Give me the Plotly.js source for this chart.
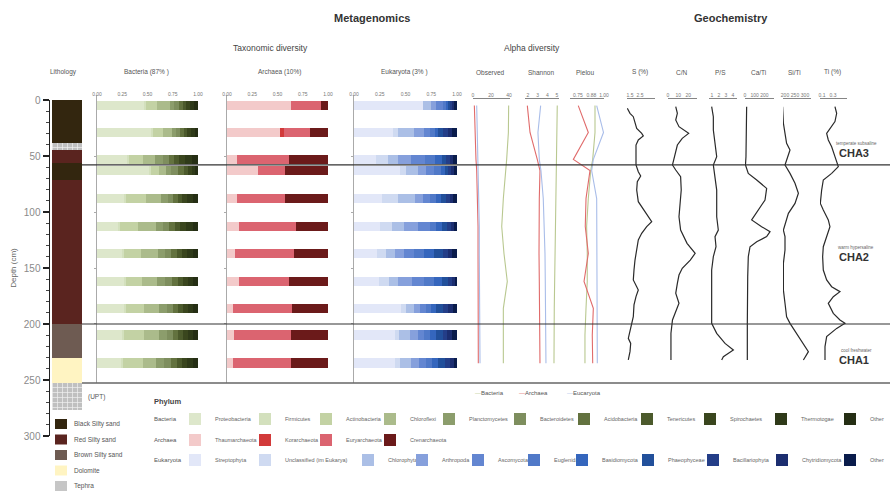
<!DOCTYPE html>
<html><head><meta charset="utf-8">
<script src="https://cdn.plot.ly/plotly-3.0.1.min.js"></script>
<style>html,body{margin:0;padding:0;background:#fff}#chart{width:890px;height:493px}</style>
</head><body><div id="chart"></div>
<script>
// ================= DATA =================
const sampleDepths = [5, 29, 53, 63, 88, 113, 137, 162, 186, 210, 235];

// Lithology (cm)
const lithoTop  = [0, 38, 45, 56, 71, 200, 230, 253];
const lithoBot  = [38, 45, 56, 71, 200, 230, 253, 277];
const lithoType = ['Black Silty sand','Tephra','Red Silty sand','Black Silty sand','Red Silty sand','Brown Silty sand','Dolomite','Tephra'];
const lithoClasses = ['Black Silty sand','Red Silty sand','Brown Silty sand','Dolomite','Tephra'];

// Bacteria relative abundance (rows = samples, cols = phyla)
const bacteriaPhyla = ['Proteobacteria','Firmicutes','Actinobacteria','Chloroflexi','Planctomycetes','Bacteroidetes','Acidobacteria','Tenericutes','Spirochaetes','Thermotogae','Other'];
const bacteriaAbund = [
  [0.47,0.02,0.10,0.13,0.04,0.05,0.04,0.03,0.04,0.04,0.04],
  [0.53,0.02,0.10,0.09,0.04,0.04,0.04,0.03,0.04,0.04,0.03],
  [0.30,0.02,0.14,0.11,0.08,0.06,0.05,0.05,0.06,0.07,0.06],
  [0.51,0.02,0.08,0.07,0.05,0.07,0.06,0.04,0.04,0.03,0.03],
  [0.27,0.02,0.20,0.14,0.07,0.05,0.05,0.04,0.05,0.06,0.05],
  [0.21,0.02,0.18,0.17,0.07,0.06,0.06,0.05,0.06,0.07,0.05],
  [0.25,0.02,0.17,0.16,0.07,0.06,0.06,0.05,0.05,0.06,0.05],
  [0.27,0.02,0.16,0.14,0.08,0.07,0.06,0.05,0.05,0.05,0.05],
  [0.27,0.02,0.18,0.14,0.08,0.06,0.05,0.05,0.05,0.05,0.05],
  [0.25,0.02,0.20,0.14,0.08,0.06,0.05,0.05,0.05,0.05,0.05],
  [0.24,0.02,0.20,0.12,0.08,0.07,0.06,0.05,0.05,0.06,0.05]
];

const archaeaPhyla = ['Thaumarchaeota','Korarchaeota','Euryarchaeota','Crenarchaeota'];
const archaeaAbund = [
  [0.63,0.00,0.30,0.07],
  [0.52,0.04,0.26,0.18],
  [0.10,0.00,0.51,0.39],
  [0.31,0.00,0.26,0.43],
  [0.10,0.00,0.47,0.43],
  [0.12,0.00,0.56,0.32],
  [0.08,0.00,0.58,0.34],
  [0.12,0.00,0.49,0.39],
  [0.06,0.00,0.58,0.36],
  [0.07,0.00,0.56,0.37],
  [0.06,0.00,0.57,0.37]
];

const eukaryotaPhyla = ['Streptophyta','Unclassified (im Eukarya)','Chlorophyta','Arthropoda','Ascomycota','Euglenida','Basidiomycota','Phaeophyceae','Bacillariophyta','Chytridiomycota','Other'];
const eukaryotaAbund = [
  [0.67,0.00,0.08,0.05,0.06,0.03,0.02,0.02,0.02,0.02,0.03],
  [0.38,0.05,0.15,0.10,0.06,0.05,0.03,0.04,0.05,0.04,0.05],
  [0.21,0.12,0.10,0.12,0.14,0.10,0.06,0.04,0.04,0.03,0.04],
  [0.45,0.05,0.12,0.08,0.08,0.06,0.04,0.03,0.03,0.03,0.03],
  [0.27,0.16,0.16,0.08,0.07,0.06,0.04,0.05,0.04,0.03,0.04],
  [0.25,0.12,0.12,0.13,0.12,0.06,0.05,0.05,0.04,0.03,0.03],
  [0.22,0.09,0.09,0.09,0.09,0.10,0.10,0.08,0.05,0.04,0.05],
  [0.24,0.10,0.09,0.13,0.12,0.10,0.07,0.06,0.04,0.03,0.02],
  [0.46,0.04,0.08,0.06,0.06,0.05,0.05,0.06,0.05,0.05,0.04],
  [0.40,0.04,0.10,0.08,0.06,0.06,0.06,0.06,0.04,0.05,0.05],
  [0.40,0.05,0.10,0.08,0.07,0.06,0.06,0.06,0.05,0.04,0.03]
];

// Alpha diversity (per sample)
const alphaGroups = ['Bacteria','Archaea','Eucaryota'];
const observedBac = [39.6,39.3,37.4,36.3,33.7,31.9,34.4,38.1,33.7,33.7,33.7];
const observedArc = [1.5,2.2,3.3,4.1,5.2,5.6,5.6,5.6,5.9,5.9,5.9];
const observedEuk = [4.1,4.8,5.6,5.9,6.7,7.0,7.0,7.4,7.4,7.8,7.8];
const shannonBac = [5.03,5.00,4.93,4.90,4.86,4.83,4.79,4.76,4.72,4.72,4.69];
const shannonArc = [1.93,2.21,2.96,3.24,3.17,3.14,3.14,3.17,3.17,3.17,3.24];
const shannonEuk = [3.31,3.03,3.17,3.34,3.58,3.69,3.76,3.79,3.83,3.86,3.86];
const pielouBac = [0.914,0.914,0.892,0.873,0.850,0.834,0.840,0.840,0.828,0.818,0.818];
const pielouArc = [0.754,0.850,0.707,0.866,0.828,0.821,0.850,0.809,0.898,0.888,0.892];
const pielouEuk = [0.930,0.995,0.898,0.882,0.930,0.930,0.930,0.930,0.936,0.930,0.936];

// Geochemistry
const sDepth = [7.4,11.9,14.9,20.8,25.3,29.8,32.1,35.7,40.2,50.6,58.0,64.0,67.9,72.9,80.4,90.8,102.7,108.6,113.1,119.0,125.0,132.4,142.9,151.8,160.7,166.7,169.6,175.6,183.0,193.5,199.4,205.4,212.8,217.3,224.7,232.1];
const sVal   = [1.23,1.50,1.83,2.00,2.17,2.67,2.83,2.33,2.10,2.10,2.10,2.33,2.57,2.23,2.17,2.33,3.17,3.67,3.17,2.67,2.33,2.17,2.00,1.90,1.83,2.17,2.33,2.10,1.90,1.83,1.67,1.50,1.33,1.57,1.50,1.33];
const cnDepth = [6.0,11.9,17.9,23.8,29.8,34.2,40.2,50.6,58.0,62.5,68.5,80.4,92.3,104.2,116.1,128.0,136.9,142.9,150.3,156.3,163.7,172.6,181.5,189.0,196.4,208.3,220.2,232.1];
const cnVal   = [7.6,9.2,7.6,10.8,20.3,14.0,9.2,6.0,4.4,7.6,12.4,13.0,11.7,10.8,12.4,18.7,26.7,21.9,14.0,10.8,9.2,7.6,10.8,7.6,4.4,2.9,2.9,2.9];
const psDepth = [6.0,14.9,26.8,38.7,50.6,58.0,68.5,80.4,92.3,104.2,116.1,122.0,131.0,139.9,151.8,169.6,184.5,199.4,208.3,217.3,223.2,229.2,232.1];
const psVal   = [0.95,1.19,1.19,1.43,1.67,1.19,1.43,1.67,1.67,1.67,1.90,1.43,1.57,1.19,0.95,0.95,0.95,0.95,1.67,2.86,4.05,2.62,2.38];
const caDepth = [6.0,20.8,35.7,50.6,58.0,65.5,71.4,78.9,89.3,99.7,107.1,113.1,117.6,122.0,126.5,131.0,139.9,157.7,175.6,199.4,217.3,232.1];
const caVal   = [17,17,17,10,5,34,121,224,207,121,69,172,259,224,121,52,34,28,24,24,24,24];
const siDepth = [6.0,20.8,29.8,38.7,44.6,53.6,58.0,65.5,74.4,83.3,92.3,101.2,110.1,116.1,122.0,133.9,145.8,157.7,169.6,181.5,193.5,199.4,208.3,217.3,224.7,232.1];
const siVal   = [188,192,200,208,225,208,200,225,250,267,250,217,200,192,200,200,192,192,192,200,208,225,258,292,317,292];
const tiDepth = [6.0,11.9,19.3,25.3,29.8,35.7,41.7,50.6,59.5,65.5,71.4,80.4,92.3,98.2,107.1,113.1,122.0,131.0,139.9,151.8,160.7,166.7,171.1,175.6,181.5,190.5,196.4,199.4,203.9,211.3,220.2,232.1];
const tiVal   = [0.336,0.367,0.336,0.245,0.185,0.215,0.276,0.336,0.397,0.276,0.124,0.094,0.07,0.124,0.215,0.245,0.185,0.124,0.112,0.124,0.185,0.276,0.427,0.306,0.215,0.306,0.427,0.518,0.367,0.185,0.155,0.155];

const zoneBoundaries = [58, 200];
const zoneNames = ['CHA3','CHA2','CHA1'];
const zoneDesc = ['temperate subsaline','warm hypersaline','cool freshwater'];
const zoneLabelDepth = [47, 140, 232];

// ================= STYLE =================
const W = 890, H = 493;
const px = v => v / W;
const py = v => 1 - v / H;
const FONT = 'Liberation Sans, Arial, sans-serif';

const lithoColors = {'Black Silty sand':'#33260f','Red Silty sand':'#5a241f','Brown Silty sand':'#6e5b52','Dolomite':'#fff4c2','Tephra':'#c6c6c6'};
const bacColors = ['#dde7cb','#d3e0bd','#c3d2a4','#abbb8b','#8c9d6c','#7e8e5e','#63723f','#4c5a2c','#3a461e','#2f3a19','#252e14'];
const arcColors = ['#f3caca','#d23a3a','#db6470','#6b1a1a'];
const eukColors = ['#e2e7f8','#cfdaf1','#abbfe6','#86a0dc','#6386d1','#5079c8','#3566bd','#22509b','#243e88','#1c2e70','#0a1c4b'];
const alphaColors = ['#b9c890','#e06b6b','#a9bde9'];

// legend item widths (px)
const bacLW = [25,16,19,14,26,19,18,18,26,24,12];
const arcLW = [25,16,19,40];
const eukLW = [25,58,9,11,11,3,21,20,24,23,12];

const traces = [];

// Lithology column
lithoClasses.forEach(cls => {
  const idx = lithoType.map((t,i)=> t===cls ? i : -1).filter(i=>i>=0);
  const m = {color: lithoColors[cls], line:{width:0}};
  if (cls === 'Tephra') m.pattern = {shape:'+', fgcolor:'#f2f2f2', bgcolor:'#c0c0c0', size:5, solidity:0.25};
  traces.push({type:'bar', orientation:'v', x: idx.map(()=>0), base: idx.map(i=>lithoTop[i]),
    y: idx.map(i=>lithoBot[i]-lithoTop[i]), width: 1, xaxis:'x', yaxis:'y', marker:m,
    name: cls, showlegend:false, hoverinfo:'name'});
});

function addStack(phyla, abund, colors, lws, xa, ya, legend) {
  phyla.forEach((p,k) => {
    traces.push({type:'bar', orientation:'h', name:p, y: sampleDepths, x: abund.map(r=>r[k]),
      width: 8.6, xaxis:xa, yaxis:ya, marker:{color:colors[k], line:{width:0}},
      legend: legend, legendwidth: lws[k], showlegend:true});
  });
}
addStack(bacteriaPhyla, bacteriaAbund, bacColors, bacLW, 'x2','y2','legend');
addStack(archaeaPhyla, archaeaAbund, arcColors, arcLW, 'x3','y3','legend2');
addStack(eukaryotaPhyla, eukaryotaAbund, eukColors, eukLW, 'x4','y4','legend3');

function addLine(xv, yv, xa, color, name, w) {
  traces.push({type:'scatter', mode:'lines', x:xv, y:yv, xaxis:xa, yaxis:'y',
    line:{color:color, width:w||1.1}, name:name, showlegend:false, cliponaxis:false});
}
[[observedBac,observedArc,observedEuk,'x5'],[shannonBac,shannonArc,shannonEuk,'x6'],[pielouBac,pielouArc,pielouEuk,'x7']].forEach(g=>{
  addLine(g[0], sampleDepths, g[3], alphaColors[0], 'Bacteria');
  addLine(g[1], sampleDepths, g[3], alphaColors[1], 'Archaea');
  addLine(g[2], sampleDepths, g[3], alphaColors[2], 'Eucaryota');
});
addLine(sVal, sDepth, 'x8', '#2a2a2a', 'S (%)', 1.2);
addLine(cnVal, cnDepth, 'x9', '#2a2a2a', 'C/N', 1.2);
addLine(psVal, psDepth, 'x10', '#2a2a2a', 'P/S', 1.2);
addLine(caVal, caDepth, 'x11', '#2a2a2a', 'Ca/Ti', 1.2);
addLine(siVal, siDepth, 'x12', '#2a2a2a', 'Si/Ti', 1.2);
addLine(tiVal, tiDepth, 'x13', '#2a2a2a', 'Ti (%)', 1.2);

// ================= LAYOUT =================
const layout = {
  width:W, height:H, margin:{l:0,r:0,t:0,b:0, autoexpand:false},
  paper_bgcolor:'#fff', plot_bgcolor:'rgba(0,0,0,0)',
  font:{family:FONT, color:'#555'},
  barmode:'stack', hovermode:false,
  xaxis:{domain:[px(50),px(82)], range:[-0.56,0.5], visible:false, anchor:'y', fixedrange:true},
  yaxis:{domain:[py(436),py(100)], range:[300,0], anchor:'x', showline:true, linecolor:'#222', linewidth:1.5,
    ticks:'outside', ticklen:6, tickwidth:2, tickcolor:'#222', tickvals:[0,50,100,150,200,250,300],
    tickfont:{size:10,color:'#8a8a8a'}, showgrid:false, zeroline:false,
    minor:{dtick:10, ticks:'outside', ticklen:3, tickwidth:1, tickcolor:'#444'},
    title:{text:'Depth (cm)', font:{size:8,color:'#666'}, standoff:6}}
};
const barYAxis = {domain:[py(383),py(95)], range:[252.7,-4.5], showline:true, linecolor:'#aaa', linewidth:1,
  ticks:'outside', ticklen:2, tickcolor:'#aaa', tickvals:[50,100,150,200], showticklabels:false, showgrid:false, zeroline:false};
const barXAxis = (d) => ({domain:[px(d[0]),px(d[1])], range:[0,1], anchor:'free', position:py(97), side:'top',
  showline:false, showgrid:false, zeroline:false, ticks:'', tickvals:[0,0.25,0.5,0.75,1], tickangle:0,
  ticktext:['0.00','0.25','0.50','0.75','1.00'], tickfont:{size:5,color:'#777'}});
layout.xaxis2 = barXAxis([97,198]); layout.yaxis2 = Object.assign({anchor:'x2'}, barYAxis);
layout.xaxis3 = barXAxis([227,328]); layout.yaxis3 = Object.assign({anchor:'x3'}, barYAxis);
layout.xaxis4 = barXAxis([354,457]); layout.yaxis4 = Object.assign({anchor:'x4'}, barYAxis);

const lineX = (d, r, tv, tt) => ({domain:[px(d[0]),px(d[1])], range:r, anchor:'free', position:py(98.5), side:'top',
  showline:true, linecolor:'#666', linewidth:0.8, showgrid:false, zeroline:false, ticks:'', tickangle:0,
  tickvals:tv, ticktext:tt, tickfont:{size:5,color:'#777'}});
layout.xaxis5 = lineX([473,510],[0,41.1],[0,20,40],['0','20','40']);
layout.xaxis6 = lineX([525,559],[1.69,5.21],[2,3,4,5],['2','3','4','5']);
layout.xaxis7 = lineX([570,604],[0.675,1.0],[0.75,0.88,1.0],['0.75','0.88','1.00']);
layout.xaxis8 = lineX([627,655],[1.2,4.0],[1.5,2.5],['1.5','2.5']);
layout.xaxis9 = lineX([668,697],[0,28.5],[0,10,20],['0','10','20']);
layout.xaxis10 = lineX([709,737],[0.57,4.57],[1,2,3,4],['1','2','3','4']);
layout.xaxis11 = lineX([745,774],[0,300],[0,100,200],['0','100','200']);
layout.xaxis12 = lineX([783,811],[190,330],[200,250,300],['200','250','300']);
layout.xaxis13 = lineX([820,847],[0.064,0.555],[0.1,0.3],['0.1','0.3']);

const legendBase = (ypx) => ({x:px(175), xanchor:'left', y:py(ypx), yanchor:'middle', orientation:'h',
  font:{size:5.5,color:'#666',family:FONT}, bgcolor:'rgba(0,0,0,0)', borderwidth:0, traceorder:'normal',
  itemclick:false, itemdoubleclick:false, tracegroupgap:0});
layout.legend = legendBase(419);
layout.legend2 = legendBase(440);
layout.legend3 = legendBase(460);

// Annotations
const ann = [];
const A = (text, x, y, size, o) => ann.push(Object.assign({text:text, x:px(x), y:py(y), xref:'paper', yref:'paper',
  showarrow:false, font:{size:size, color:'#555', family:FONT}, xanchor:'center', yanchor:'middle'}, o||{}));
A('<b>Metagenomics</b>', 372, 18, 11, {font:{size:11,color:'#333',family:FONT}});
A('<b>Geochemistry</b>', 731, 18, 11, {font:{size:11,color:'#333',family:FONT}});
A('Taxonomic diversity', 270, 48, 8.5, {font:{size:8.5,color:'#444',family:FONT}});
A('Alpha diversity', 532, 48, 8.5, {font:{size:8.5,color:'#444',family:FONT}});
A('Lithology', 63, 72, 6.5);
A('Bacteria (87% )', 146, 72, 6.5);
A('Archaea (10%)', 279, 72, 6.5);
A('Eukaryota (3% )', 404, 72, 6.5);
A('Observed', 491, 73, 6.5);
A('Shannon', 541, 73, 6.5);
A('Pielou', 585, 73, 6.5);
A('S (%)', 640, 72, 6.5);
A('C/N', 682, 72, 6.5);
A('P/S', 720, 72, 6.5);
A('Ca/Ti', 758, 72, 6.5);
A('Si/Ti', 794, 72, 6.5);
A('Ti (%)', 832, 72, 6.5);
A('(UPT)', 96, 397, 6.5);
A('<b>Phylum</b>', 152, 401, 7.5, {xanchor:'left', font:{size:7.5,color:'#444',family:FONT}});
A('Bacteria', 152, 419, 6, {xanchor:'left'});
A('Archaea', 152, 440, 6, {xanchor:'left'});
A('Eukaryota', 152, 460, 6, {xanchor:'left'});
// alpha legend
const alphaLegendX = [473, 517, 565];
alphaGroups.forEach((g,i)=> A('<span style="color:'+alphaColors[i]+'">—</span>'+g, alphaLegendX[i], 393, 6, {xanchor:'left'}));
// zone labels
zoneNames.forEach((z,i)=>{
  ann.push({text:zoneDesc[i], x:px(856), y:zoneLabelDepth[i]-8, xref:'paper', yref:'y', showarrow:false,
    font:{size:4.5,color:'#666',family:FONT}, xanchor:'center', yanchor:'middle'});
  ann.push({text:'<b>'+z+'</b>', x:px(854), y:zoneLabelDepth[i], xref:'paper', yref:'y', showarrow:false,
    font:{size:11,color:'#333',family:FONT}, xanchor:'center', yanchor:'middle'});
});

// Shapes
const shapes = [];
zoneBoundaries.forEach(d => shapes.push({type:'line', xref:'paper', yref:'y', x0:px(82), x1:1, y0:d, y1:d,
  line:{color:'#333', width:1.2}}));
shapes.push({type:'line', xref:'paper', yref:'paper', x0:px(82), x1:1, y0:py(383), y1:py(383), line:{color:'#666', width:1.5}});
// lithology legend swatches
lithoClasses.forEach((c,i)=>{
  const yc = 424 + i*15.5;
  shapes.push({type:'rect', xref:'paper', yref:'paper', x0:px(55), x1:px(67), y0:py(yc+5), y1:py(yc-5),
    fillcolor:lithoColors[c], line:{width:0}});
  A(c, 72, yc, 6.5, {xanchor:'left'});
});

layout.annotations = ann;
layout.shapes = shapes;

Plotly.newPlot('chart', traces, layout, {displayModeBar:false, staticPlot:true});
</script>
</body></html>
